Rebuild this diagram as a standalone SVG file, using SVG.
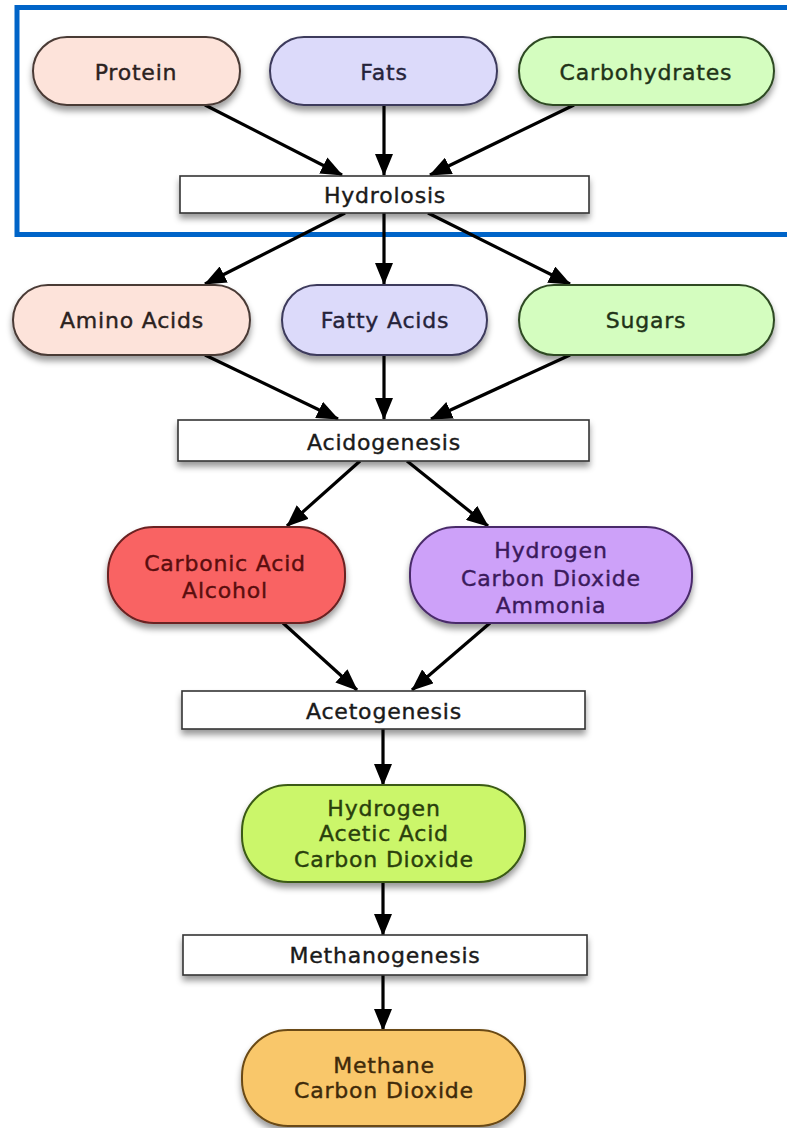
<svg xmlns="http://www.w3.org/2000/svg" width="787" height="1128" viewBox="0 0 787 1128">
<defs>
<filter id="sh" x="-10%" y="-20%" width="120%" height="160%">
<feDropShadow dx="0" dy="5" stdDeviation="3" flood-color="#000" flood-opacity="0.4"/>
</filter>
<marker id="ah" viewBox="0 0 22 18" refX="21" refY="9" markerWidth="22" markerHeight="18" markerUnits="userSpaceOnUse" orient="auto">
<path d="M0,0 L22,9 L0,18 z" fill="#000"/>
</marker>
<style>
text{font-family:"DejaVu Sans","Liberation Sans",sans-serif;font-size:22px;letter-spacing:0.8px;text-anchor:middle;stroke-width:0.4px;fill:#1a1a1a;stroke:#1a1a1a}
.n{stroke-width:2;filter:url(#sh)}
.box{fill:#fff;stroke:#333;stroke-width:1.6;filter:url(#sh)}
.pink{fill:#FDE3DA;stroke:#4a3a36}
.pinkt{fill:#2b2220;stroke:#2b2220}
.lav{fill:#DCDAFA;stroke:#3d3a5c}
.lavt{fill:#25233a;stroke:#25233a}
.grn{fill:#D4FDBF;stroke:#2e4a24}
.grnt{fill:#1f3318;stroke:#1f3318}
.red{fill:#F96464;stroke:#6b2020}
.redt{fill:#5a0e0e;stroke:#5a0e0e}
.pur{fill:#CDA1F9;stroke:#4a2c6a}
.purt{fill:#3b1a5c;stroke:#3b1a5c}
.lime{fill:#CBF66A;stroke:#3a5a14}
.limet{fill:#2a3f0c;stroke:#2a3f0c}
.org{fill:#F9C76B;stroke:#6a4a14}
.orgt{fill:#3f2a0a;stroke:#3f2a0a}
.c line{stroke:#000;stroke-width:3.2;marker-end:url(#ah)}
</style>
</defs>
<rect width="787" height="1128" fill="#fff"/>
<path d="M790,7.5 H17 V234.5 H790" fill="none" stroke="#0064C8" stroke-width="5"/>
<g id="connectors" class="c">
<line x1="205" y1="105" x2="342" y2="175"/>
<line x1="384" y1="105" x2="384" y2="175"/>
<line x1="574" y1="105" x2="430" y2="175"/>
<line x1="345" y1="213" x2="205" y2="284"/>
<line x1="384" y1="213" x2="384" y2="284"/>
<line x1="428" y1="213" x2="570" y2="284"/>
<line x1="205" y1="355" x2="338" y2="419"/>
<line x1="384" y1="355" x2="384" y2="419"/>
<line x1="570" y1="355" x2="431" y2="419"/>
<line x1="360" y1="461" x2="287" y2="526"/>
<line x1="407" y1="461" x2="488" y2="526"/>
<line x1="283" y1="623" x2="357" y2="690"/>
<line x1="490" y1="623" x2="412" y2="690"/>
<line x1="383" y1="729" x2="383" y2="785"/>
<line x1="383" y1="882" x2="383" y2="935"/>
<line x1="383" y1="975" x2="383" y2="1030"/>
</g>
<g id="protein"><rect class="n pink" x="33" y="37" width="207" height="68" rx="34"/><text class="pinkt" x="136" y="80">Protein</text></g>
<g id="fats"><rect class="n lav" x="270" y="37" width="227" height="68" rx="34"/><text class="lavt" x="384" y="80">Fats</text></g>
<g id="carbohydrates"><rect class="n grn" x="519" y="37" width="255" height="68" rx="34"/><text class="grnt" x="646" y="80">Carbohydrates</text></g>
<g id="hydrolosis"><rect class="box" x="180" y="176" width="409" height="37"/><text x="385" y="203">Hydrolosis</text></g>
<g id="amino"><rect class="n pink" x="13" y="285" width="237" height="70" rx="35"/><text class="pinkt" x="132" y="328">Amino Acids</text></g>
<g id="fatty"><rect class="n lav" x="282" y="285" width="205" height="70" rx="35"/><text class="lavt" x="385" y="328">Fatty Acids</text></g>
<g id="sugars"><rect class="n grn" x="519" y="285" width="255" height="70" rx="35"/><text class="grnt" x="646" y="328">Sugars</text></g>
<g id="acidogenesis"><rect class="box" x="178" y="420" width="411" height="41"/><text x="384" y="450">Acidogenesis</text></g>
<g id="carbonic"><rect class="n red" x="108" y="527" width="237" height="96" rx="46"/><text class="redt" x="225" y="571">Carbonic Acid</text><text class="redt" x="225" y="598">Alcohol</text></g>
<g id="hydrogen1"><rect class="n pur" x="410" y="527" width="282" height="96" rx="46"/><text class="purt" x="551" y="558">Hydrogen</text><text class="purt" x="551" y="586">Carbon Dioxide</text><text class="purt" x="551" y="613">Ammonia</text></g>
<g id="acetogenesis"><rect class="box" x="182" y="691" width="403" height="38"/><text x="384" y="719">Acetogenesis</text></g>
<g id="hydrogen2"><rect class="n lime" x="242" y="785" width="283" height="97" rx="46"/><text class="limet" x="384" y="816">Hydrogen</text><text class="limet" x="384" y="841">Acetic Acid</text><text class="limet" x="384" y="867">Carbon Dioxide</text></g>
<g id="methanogenesis"><rect class="box" x="183" y="935" width="404" height="40"/><text x="385" y="963">Methanogenesis</text></g>
<g id="methane"><rect class="n org" x="242" y="1030" width="283" height="96" rx="46"/><text class="orgt" x="384" y="1073">Methane</text><text class="orgt" x="384" y="1098">Carbon Dioxide</text></g>
</svg>
